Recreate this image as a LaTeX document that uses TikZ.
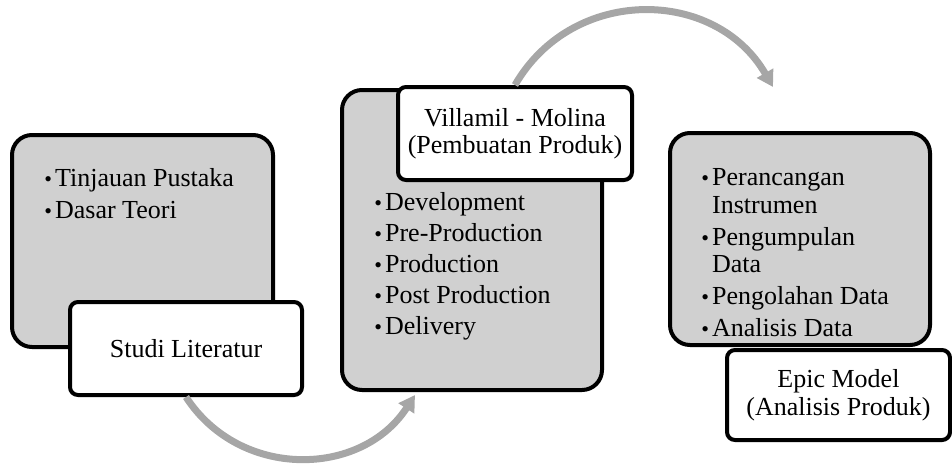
\documentclass[tikz,border=0pt]{standalone}
\usepackage{fontspec}
\setmainfont{Liberation Serif}
\usetikzlibrary{shapes,arrows.meta,positioning}
\definecolor{boxgray}{RGB}{208,208,208}
\definecolor{flowgray}{RGB}{166,166,166}
\newcommand{\dotitem}{{\fontsize{11}{11}\selectfont •}\hspace{1.5pt}}
\newcommand{\dotskip}{\phantom{\dotitem}}

\begin{document}
\begin{tikzpicture}[x=0.5pt,y=0.5pt,
    stage/.style={draw,line width=2pt,rounded corners=10pt,fill=boxgray,rectangle,minimum width=130pt},
    tag/.style={draw,line width=2pt,rounded corners=4pt,fill=white,rectangle,align=center,font=\fontsize{13}{13.75}\selectfont},
    items/.style={align=left,inner sep=0pt,anchor=north west,font=\fontsize{13}{15.5}\selectfont},
    flow/.style={draw=flowgray,line width=3.5pt,-{Triangle[length=8pt,width=9pt]}}]
    \useasboundingbox (0,0) rectangle (952,463);

    % Studi Literatur
    \node[stage,minimum width=130.5pt,minimum height=106pt] (lit) at (142.5,222) {};
    \node[items] (litlist) at (44,294.5) {\dotitem Tinjauan Pustaka\\[0.5pt]\dotitem Dasar Teori};
    \node[tag,minimum width=116pt,minimum height=46.5pt] (litlbl) at (186,114.5) {Studi Literatur};

    % Villamil - Molina
    \node[stage,minimum height=150pt] (prod) at (472,223) {};
    \node[items] (prodlist) at (374,270.6) {\dotitem Development\\\dotitem Pre-Production\\\dotitem Production\\\dotitem Post Production\\\dotitem Delivery};
    \node[tag,minimum width=117pt,minimum height=46.5pt] (prodlbl) at (515,329.5) {Villamil - Molina\\(Pembuatan Produk)};

    % Epic Model
    \node[stage,minimum height=106pt] (epic) at (800,224) {};
    \node[items,font=\fontsize{13}{13.75}\selectfont] (epiclist) at (701,294.5) {\dotitem Perancangan\\\dotskip Instrumen\\[2.25pt]\dotitem Pengumpulan\\\dotskip Data\\[2.25pt]\dotitem Pengolahan Data\\[2.25pt]\dotitem Analisis Data};
    \node[tag,minimum width=111.5pt,minimum height=45pt] (epiclbl) at (838.5,68) {Epic Model\\(Analisis Produk)};

    % Arrows
    \coordinate (prodin) at (415,68);
    \coordinate (epicin) at (773,376);
    \draw[flow] (litlbl.south) to[out=-57,in=-123,looseness=1.1] (prodin);
    \draw[flow] (prodlbl.north) to[out=60,in=120,looseness=1.14] (epicin);
\end{tikzpicture}
\end{document}
